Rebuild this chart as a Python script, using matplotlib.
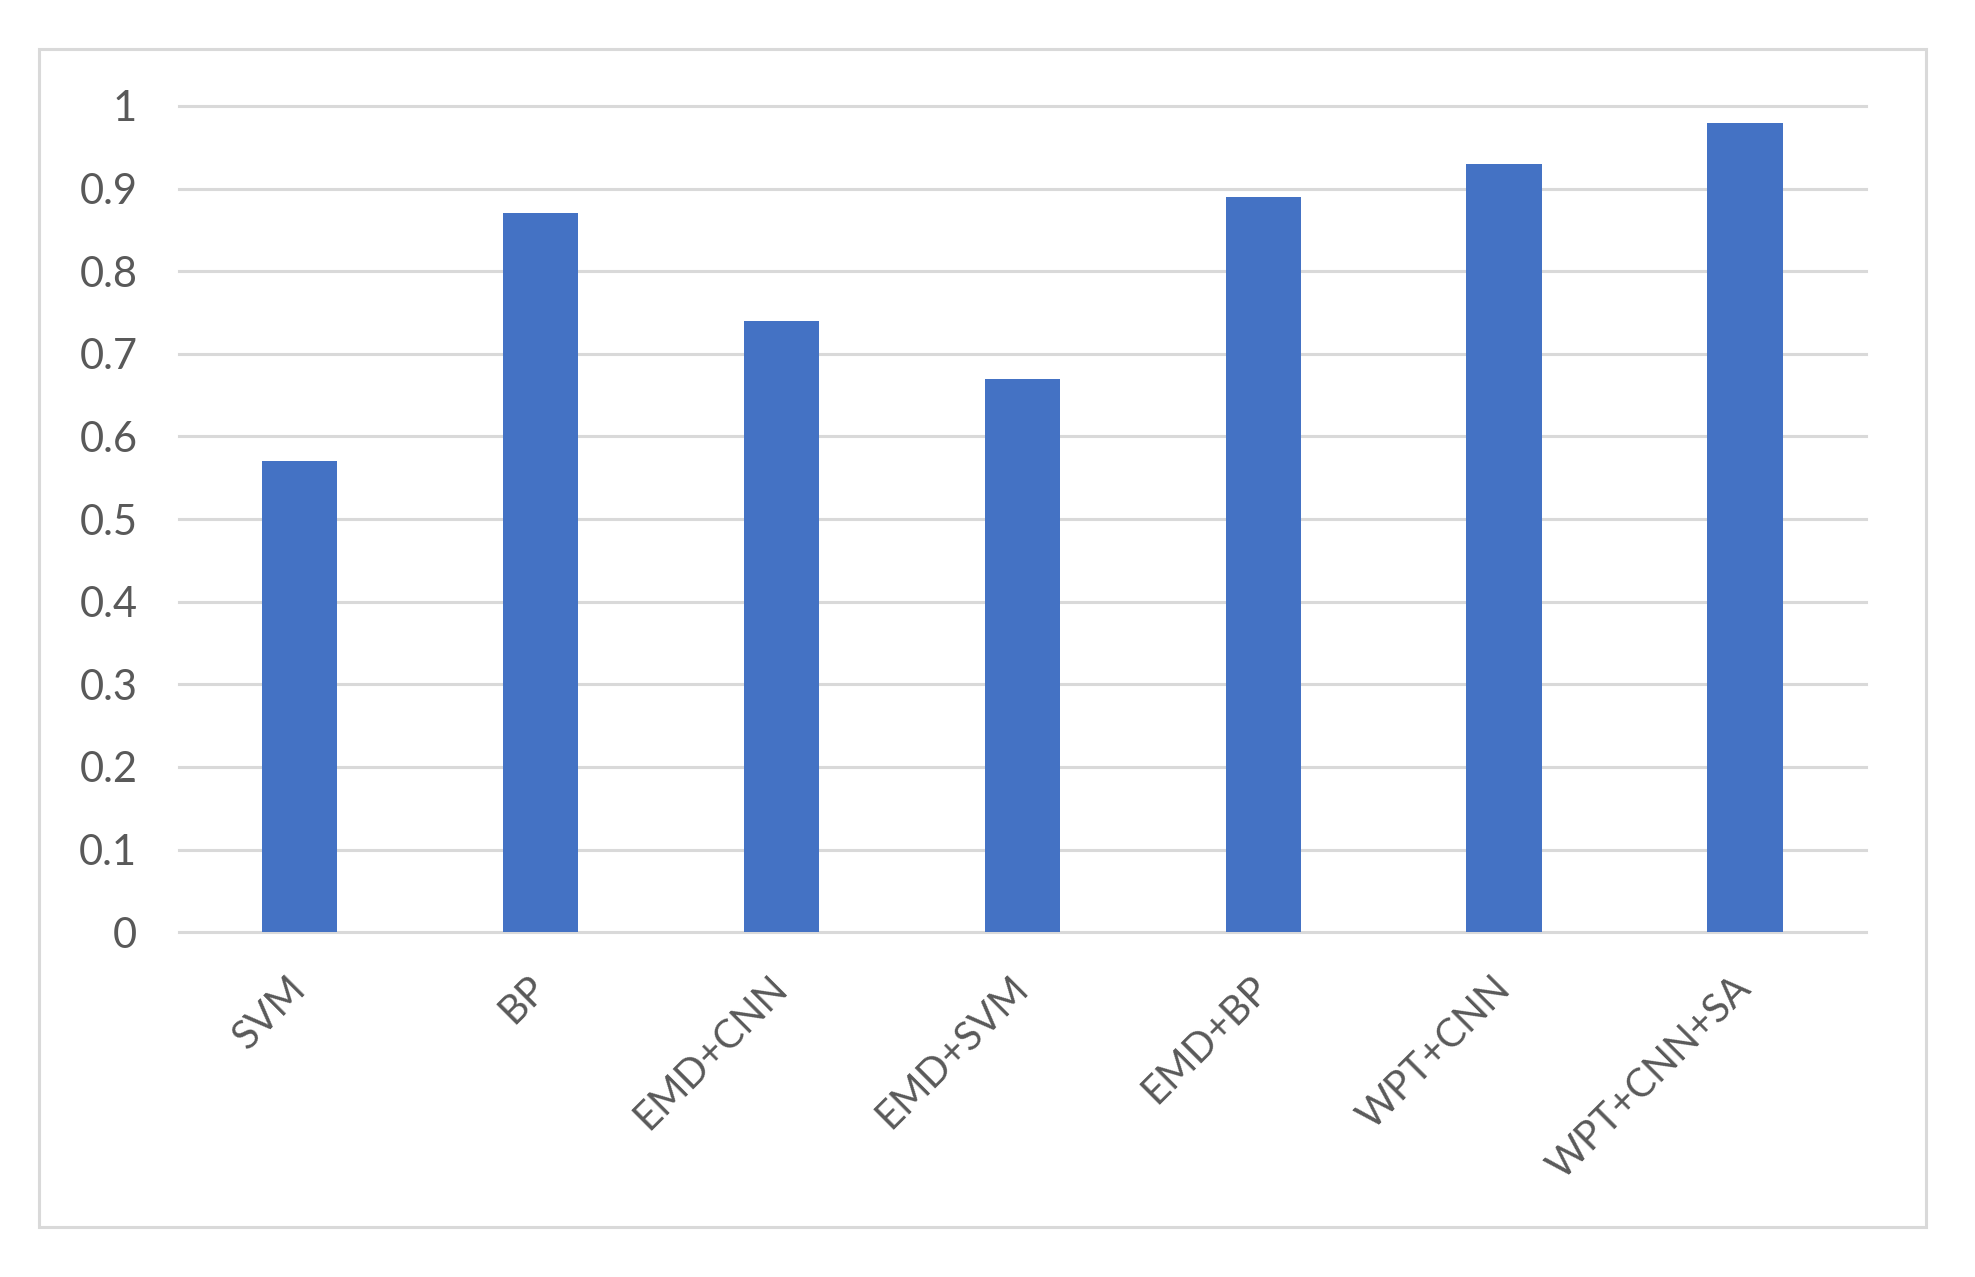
from matplotlib import pyplot as plt
from matplotlib.patches import Rectangle
import numpy as np

# 数据
methods = ["SVM", "BP", "EMD+CNN", "EMD+SVM", "EMD+BP", "WPT+CNN", "WPT+CNN+SA"]
accuracy = [0.57, 0.87, 0.74, 0.67, 0.89, 0.93, 0.98]
y_ticks = [0, 0.1, 0.2, 0.3, 0.4, 0.5, 0.6, 0.7, 0.8, 0.9, 1]
y_tick_labels = ["0", "0.1", "0.2", "0.3", "0.4", "0.5", "0.6", "0.7", "0.8", "0.9", "1"]

plt.rcParams['font.family'] = ['Lato', 'DejaVu Sans']
text_color = "#595959"
grid_color = "#d9d9d9"

fig = plt.figure(figsize=(19.75, 12.77), dpi=100)
ax = fig.add_axes([0.0906, 0.270, 0.854, 0.647])

x = np.arange(len(methods))
ax.bar(x, accuracy, width=0.313, color="#4472C4", zorder=3)

ax.set_xlim(-0.5, len(methods) - 0.5)
ax.set_ylim(0, 1)
ax.set_yticks(y_ticks)
ax.set_yticklabels(y_tick_labels)
ax.set_xticks(x)
ax.set_xticklabels(methods, rotation=45, ha="right", va="center", rotation_mode="anchor")

for y in y_ticks:
    ax.axhline(y, color=grid_color, linewidth=2.2, zorder=1, clip_on=False)

for s in ax.spines.values():
    s.set_visible(False)
ax.tick_params(axis="y", length=0, pad=30, labelsize=30, labelcolor=text_color)
ax.tick_params(axis="x", length=0, pad=36, labelsize=28.5, labelcolor=text_color)

# 外框
fig.patches.append(Rectangle((39 / 1975, 1 - 1227 / 1277), (1926 - 39) / 1975, (1227 - 49) / 1277,
                             transform=fig.transFigure, fill=False, edgecolor=grid_color, linewidth=2.2))

fig.savefig("out.png", dpi=100, facecolor="white")
